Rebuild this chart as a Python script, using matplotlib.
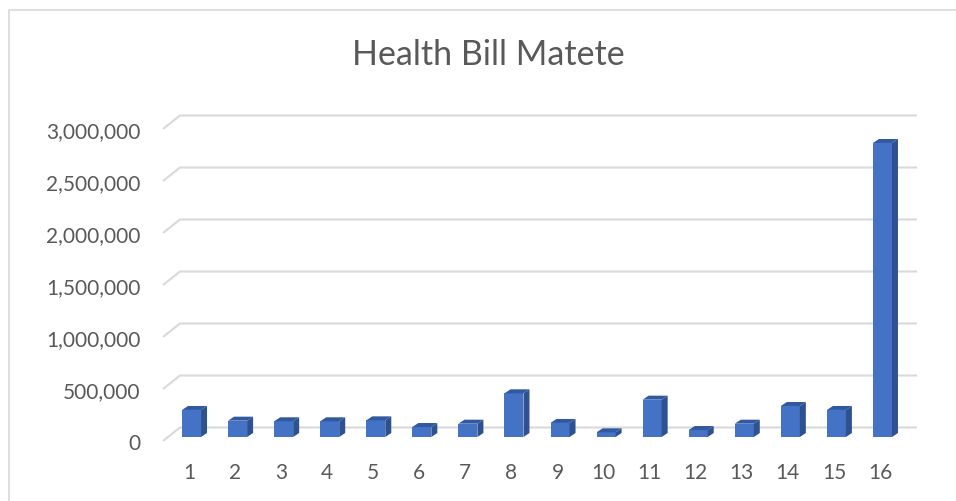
import numpy as np
import matplotlib.pyplot as plt
from matplotlib.patches import Polygon
from matplotlib.lines import Line2D
from matplotlib.transforms import ScaledTranslation

# --- Data ---
categories = [str(i) for i in range(1, 17)]
values = [260000, 157000, 151000, 151000, 160000, 96000, 128000, 420000,
          135000, 45000, 359000, 67000, 128000, 298000, 260000, 2827000]
y_ticks = [0, 500000, 1000000, 1500000, 2000000, 2500000, 3000000]
title = "Health Bill Matete"

# --- Style ---
W, H, DPI = 956, 502, 100
FONT = "Lato"
TXT = '#595959'
GRID = '#d9d9d9'
FRONT = '#4472c4'
SIDE = '#2e5190'
TOP = '#3159a0'

# plot floor (front plane) in pixels
X0, X1 = 163, 900
YB, YT = 442, 130
DEPTH = (17, 13.5)          # back wall offset in px (right, up)
BAR_OFF = (5.5, 4.0)         # bar front face offset
BAR_DEP = (6.0, 4.0)         # bar depth
BAR_W_PX = 19

fig = plt.figure(figsize=(W / DPI, H / DPI), dpi=DPI)
fig.patch.set_facecolor('white')
ax = fig.add_axes([X0 / W, (H - YB) / H, (X1 - X0) / W, (YB - YT) / H])
ax.set_xlim(0.5, 16.5)
ax.set_ylim(0, 3000000)
ax.patch.set_alpha(0)

# px -> data units
ux = 16 / (X1 - X0)
uy = 3000000 / (YB - YT)
gdx, gdy = DEPTH[0] * ux, DEPTH[1] * uy

# back wall gridlines + left diagonals
for v in y_ticks:
    ax.plot([0.5, 0.5 + gdx, 16.5 + gdx], [v, v + gdy, v + gdy],
            color=GRID, lw=1.5, solid_capstyle='butt', zorder=1, clip_on=False)

# bars
x = np.arange(1, 17)
bw = BAR_W_PX * ux
ox, oy = BAR_OFF[0] * ux, BAR_OFF[1] * uy
ddx, ddy = BAR_DEP[0] * ux, BAR_DEP[1] * uy
ax.bar(x + ox, values, width=bw, bottom=oy, color=FRONT, lw=0, zorder=3)
for xi, v in zip(x + ox, values):
    xl, xr = xi - bw / 2, xi + bw / 2
    top = oy + v
    ax.add_patch(Polygon([(xr, oy), (xr + ddx, oy + ddy), (xr + ddx, top + ddy), (xr, top)],
                         closed=True, fc=SIDE, ec='none', zorder=3, clip_on=False))
    ax.add_patch(Polygon([(xl, top), (xl + ddx, top + ddy), (xr + ddx, top + ddy), (xr, top)],
                         closed=True, fc=TOP, ec='none', zorder=3, clip_on=False))

# axes / ticks
for s in ax.spines.values():
    s.set_visible(False)
ax.set_yticks(y_ticks)
ax.set_yticklabels([f"{v:,}" for v in y_ticks])
ax.set_xticks(x)
ax.set_xticklabels(categories)
ax.tick_params(axis='both', length=0, labelsize=15, labelcolor=TXT)
ax.tick_params(axis='y', pad=16)
ax.tick_params(axis='x', pad=15)
for lbl in ax.get_yticklabels() + ax.get_xticklabels():
    lbl.set_fontfamily(FONT)
shift = ScaledTranslation(3 / DPI, 0, fig.dpi_scale_trans)
for lbl in ax.get_xticklabels():
    lbl.set_transform(lbl.get_transform() + shift)

# title
fig.text(488 / W, 1 - 55 / H, title, ha='center', va='center',
         fontsize=24.5, color=TXT, fontfamily=FONT)

# chart border (only left and top visible in the crop)
fig.add_artist(Line2D([9 / W, 9 / W, 1.0], [0.0, 1 - 11 / H, 1 - 11 / H],
                      transform=fig.transFigure, color=GRID, lw=1.2))

fig.savefig('out.png', dpi=DPI, facecolor='white')
